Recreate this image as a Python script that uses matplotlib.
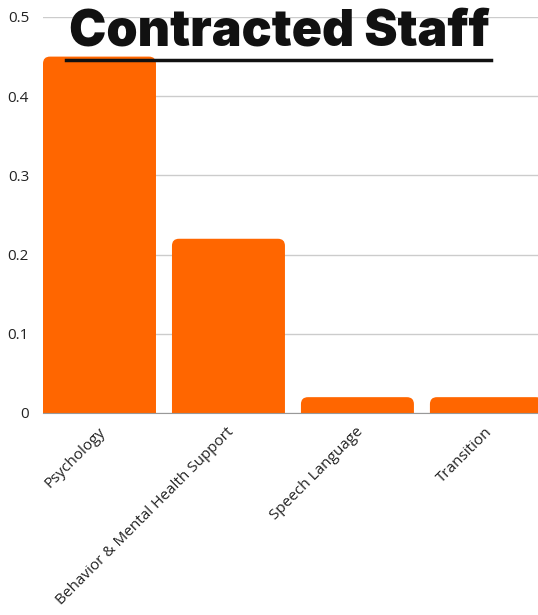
"""Bar chart of contracted staff shares by service area."""

import matplotlib
matplotlib.use("Agg")
import matplotlib.pyplot as plt
import matplotlib.transforms as mtransforms
from matplotlib.patches import FancyBboxPatch
from matplotlib.lines import Line2D

categories = ["Psychology", "Behavior & Mental Health Support", "Speech Language", "Transition"]
values = [0.45, 0.22, 0.02, 0.02]
y_ticks = [0, 0.1, 0.2, 0.3, 0.4, 0.5]
y_tick_labels = ["0", "0.1", "0.2", "0.3", "0.4", "0.5"]

BAR_COLOR = "#FF6600"
W, H = 538, 615

fig = plt.figure(figsize=(W / 100, H / 100), dpi=100)
# axes spans from the y labels to past the right edge (last bar is cut off)
ax = fig.add_axes([43 / W, 1 - 413 / H, (W - 43) / W, 396 / H])

bar_w = 0.876
bars = ax.bar(range(len(categories)), values, width=bar_w, color=BAR_COLOR, alpha=0)
ax.set_xlim(-bar_w / 2, 3.40)
ax.set_ylim(0, 0.5)

# rounded top corners: redraw each bar as a fancy box, extended below 0 so only top is round
px_x = (W - 43) / (3.40 + bar_w / 2)
px_y = 396 / 0.5
rad = 7 / px_x
for b in bars:
    x0, h = b.get_x(), b.get_height()
    patch = FancyBboxPatch(
        (x0, -0.03), bar_w, h + 0.03,
        boxstyle=f"round,pad=0,rounding_size={rad}",
        mutation_aspect=px_x / px_y,
        facecolor=BAR_COLOR, edgecolor="none", zorder=3,
    )
    ax.add_patch(patch)

ax.set_yticks(y_ticks)
ax.set_yticklabels(y_tick_labels, fontsize=11, family="Open Sans", color="#222222")
ax.set_xticks(range(len(categories)))
ax.set_xticklabels(categories, rotation=45, ha="right", rotation_mode="anchor",
                   fontsize=11, family="Open Sans", color="#222222")
ax.tick_params(axis="both", length=0)
ax.tick_params(axis="y", pad=10)
ax.tick_params(axis="x", pad=8)
shift = mtransforms.ScaledTranslation(-2 / 100, 0, fig.dpi_scale_trans)
for lbl in ax.get_xticklabels():
    lbl.set_transform(lbl.get_transform() + shift)

ax.grid(axis="y", color="#cccccc", linewidth=1)
ax.set_axisbelow(True)
for side in ["top", "right", "left"]:
    ax.spines[side].set_visible(False)
ax.spines["bottom"].set_color("#999999")
ax.spines["bottom"].set_zorder(4)

fig.text(279 / W, 1 - 32 / H, "Contracted Staff", ha="center", va="center",
         fontsize=36, fontweight="black", family="Inter", color="#111111")
fig.add_artist(Line2D([66 / W, 491 / W], [1 - 60 / H, 1 - 60 / H],
                      transform=fig.transFigure, color="#111111", linewidth=2.5))

fig.savefig("out.png", dpi=100)
